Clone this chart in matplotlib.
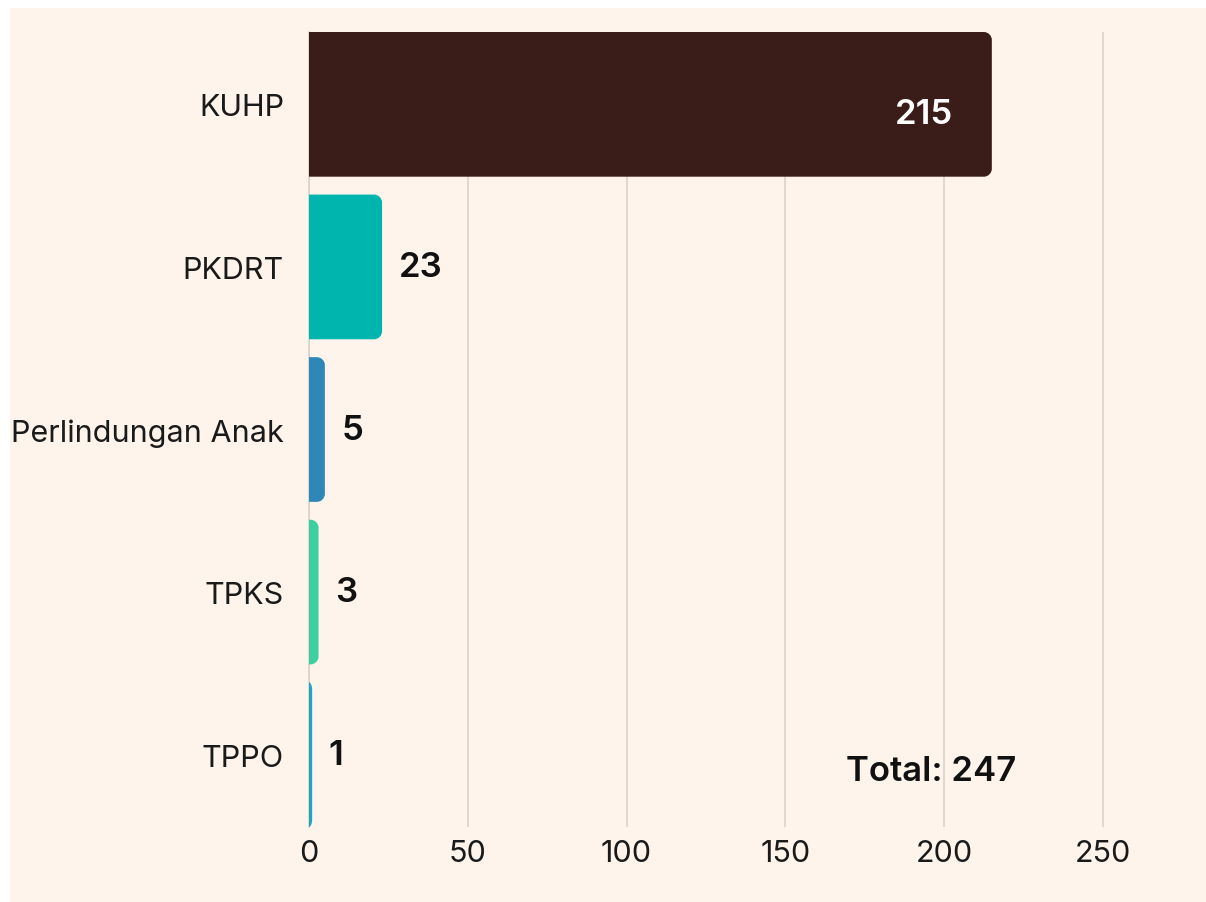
import matplotlib
matplotlib.use("Agg")
import matplotlib.pyplot as plt
from matplotlib.path import Path
from matplotlib.patches import PathPatch, Rectangle

categories = ["KUHP", "PKDRT", "Perlindungan Anak", "TPKS", "TPPO"]
values = [215, 23, 5, 3, 1]
colors = ["#3a1c19", "#00b5ad", "#2e86b9", "#3ccfa0", "#1aa6c4"]
xticks = [0, 50, 100, 150, 200, 250]
total_label = "Total: 247"

BG = "#fef4eb"
FONT = "Inter"

W, H = 1206, 903
fig = plt.figure(figsize=(W / 100, H / 100), dpi=100, facecolor="white")
fig.patches.append(Rectangle((10 / W, 0), 1 - 10 / W, 1 - 9 / H,
                             transform=fig.transFigure, facecolor=BG,
                             edgecolor="none", zorder=-10))

ax = fig.add_axes([309 / W, 1 - 828 / H, 857.5 / W, 795 / H])
ax.set_facecolor(BG)
ax.patch.set_alpha(0)

bar_h = 0.89
ypos = list(range(len(categories)))
ax.set_xlim(0, 270)
ax.set_ylim(len(categories) - 1 + bar_h / 2, -bar_h / 2)

# pixel -> data scale for corner radii
px_x = (857.5) / 270.0
px_y = 795 / (len(categories) - 1 + bar_h)
r_px = 8

bars = ax.barh(ypos, values, height=bar_h, color=colors)
for b, v, c in zip(bars, values, colors):
    b.set_visible(False)
    x0, y0 = b.get_x(), b.get_y()
    w, h = b.get_width(), b.get_height()
    rx = min(r_px / px_x, w)
    ry = r_px / px_y
    x1, y1 = x0 + w, y0 + h
    k = 0.55
    verts = [(x0, y0), (x1 - rx, y0),
             (x1 - rx + k * rx, y0), (x1, y0 + ry - k * ry), (x1, y0 + ry),
             (x1, y1 - ry),
             (x1, y1 - ry + k * ry), (x1 - rx + k * rx, y1), (x1 - rx, y1),
             (x0, y1), (x0, y0)]
    codes = [Path.MOVETO, Path.LINETO,
             Path.CURVE4, Path.CURVE4, Path.CURVE4,
             Path.LINETO,
             Path.CURVE4, Path.CURVE4, Path.CURVE4,
             Path.LINETO, Path.CLOSEPOLY]
    ax.add_patch(PathPatch(Path(verts, codes), facecolor=c, edgecolor="none", zorder=3))

# value labels
for i, (v, c) in enumerate(zip(values, colors)):
    if i == 0:
        ax.annotate(str(v), (v, i), xytext=(-28, -7), textcoords="offset points",
                    ha="right", va="center", color="white", fontsize=25,
                    fontweight="semibold", family=FONT, zorder=5)
    else:
        ax.annotate(str(v), (v, i), xytext=(12, 0), textcoords="offset points",
                    ha="left", va="center", color="#111111", fontsize=25,
                    fontweight="semibold", family=FONT, zorder=5)

ax.text(196, 4.1, total_label, ha="center", va="center", fontsize=25,
        fontweight="semibold", family=FONT, color="#111111", zorder=5)

ax.set_xticks(xticks)
ax.set_xticklabels([str(t) for t in xticks], family=FONT, fontsize=22, color="#1a1a1a")
ax.set_yticks(ypos)
ax.set_yticklabels(categories, family=FONT, fontsize=22, color="#1a1a1a")
ax.tick_params(axis="both", length=0)
ax.tick_params(axis="x", pad=9)
ax.tick_params(axis="y", pad=18)

ax.grid(axis="x", color="#d9d2cb", linewidth=1.2, zorder=0)
ax.set_axisbelow(True)
for s in ["top", "right", "bottom"]:
    ax.spines[s].set_visible(False)
ax.spines["left"].set_color("#d9d2cb")
ax.spines["left"].set_linewidth(1.2)

fig.savefig("out.png", dpi=100, facecolor="white")
